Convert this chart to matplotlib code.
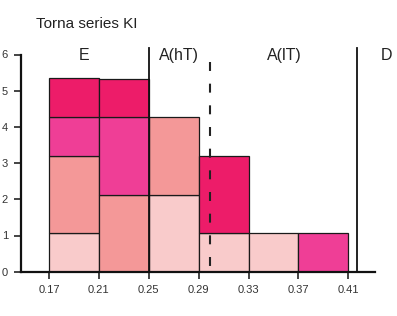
import matplotlib
matplotlib.use("Agg")
import matplotlib.pyplot as plt
import numpy as np

plt.rcParams['font.family'] = ['Liberation Sans', 'DejaVu Sans']

# Data
bin_edges = [0.17, 0.21, 0.25, 0.29, 0.33, 0.37, 0.41]
light_pink = [1.07, 0.0, 2.13, 1.07, 1.07, 0.0]
salmon = [2.13, 2.13, 2.13, 0.0, 0.0, 0.0]
hot_pink = [1.07, 2.13, 0.0, 0.0, 0.0, 1.07]
crimson = [1.07, 1.07, 0.0, 2.13, 0.0, 0.0]
series = [light_pink, salmon, hot_pink, crimson]
colors = ['#f9cbcb', '#f49898', '#ef3e96', '#ed1c69']
x_ticks = [0.17, 0.21, 0.25, 0.29, 0.33, 0.37, 0.41]
y_ticks = [0, 1, 2, 3, 4, 5, 6]
zone_names = ['E', 'A(hT)', 'A(lT)', 'D']
zone_x = [0.1985, 0.274, 0.3585, 0.441]
boundaries_solid = [0.25, 0.4172]
boundary_dashed = 0.2994
title = 'Torna series KI'

fig = plt.figure(figsize=(3.97, 3.16), dpi=100)
ax = fig.add_axes([20.7 / 397, 1 - 271.7 / 316, (375 - 20.7) / 397, (271.7 - 54.5) / 316])

left = np.array(bin_edges[:-1])
widths = np.diff(bin_edges)
bottom = np.zeros(len(left))
for vals, c in zip(series, colors):
    vals = np.array(vals)
    m = vals > 0
    ax.bar(left[m], vals[m], width=widths[m], bottom=bottom[m], align='edge',
           color=c, edgecolor='#1a1a1a', linewidth=0.9, zorder=2)
    bottom += vals

ax.set_xlim(0.1473, 0.4314)
ax.set_ylim(0, 6)

for xb in boundaries_solid:
    ax.plot([xb, xb], [0, 6.19], color='#111111', lw=1.3, clip_on=False, zorder=3)
ax.plot([boundary_dashed, boundary_dashed], [5.8, 0], color='#222222', lw=1.5,
        dashes=(4.3, 6.1), clip_on=False, zorder=3)

for name, xz in zip(zone_names, zone_x):
    ax.text(xz, 5.97, name, ha='center', va='center', fontsize=11.5,
            color='#222222', zorder=4, clip_on=False)

ax.set_xticks(x_ticks)
ax.set_xticklabels([f'{v:.2f}' for v in x_ticks])
ax.set_yticks(y_ticks)
ax.set_yticklabels([str(v) for v in y_ticks])
ax.tick_params(axis='both', length=5.3, width=1.1, labelsize=8, pad=4.2,
               colors='#111111', labelcolor='#333333')
ax.tick_params(axis='y', pad=3.8)

for s in ['top', 'right']:
    ax.spines[s].set_visible(False)
for s in ['left', 'bottom']:
    ax.spines[s].set_linewidth(1.6)
    ax.spines[s].set_color('#111111')

fig.text(35.7 / 397, 1 - 28.5 / 316, title, fontsize=11, color='#222222',
         ha='left', va='baseline')

fig.savefig('out.png', dpi=100)
